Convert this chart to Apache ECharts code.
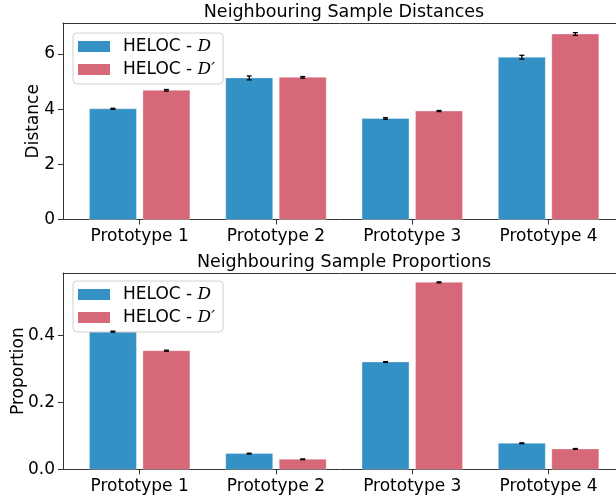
<!DOCTYPE html>
<html><head><meta charset="utf-8">
<script src="https://cdn.jsdelivr.net/npm/echarts@6/dist/echarts.min.js"></script>
<style>html,body{margin:0;padding:0;background:#fff}#c{width:616px;height:497px}</style>
</head><body><div id="c"></div>
<script>
const categories = ['Prototype 1', 'Prototype 2', 'Prototype 3', 'Prototype 4'];
const seriesNames = ['HELOC - D', "HELOC - D'"];
const titles = ['Neighbouring Sample Distances', 'Neighbouring Sample Proportions'];
const yNames = ['Distance', 'Proportion'];
const distD = [4.01, 5.13, 3.66, 5.88];
const distDErr = [0.02, 0.07, 0.03, 0.07];
const distDp = [4.68, 5.15, 3.93, 6.72];
const distDpErr = [0.03, 0.03, 0.02, 0.05];
const propD = [0.412, 0.047, 0.321, 0.078];
const propDErr = [0.0015, 0.0012, 0.0012, 0.0012];
const propDp = [0.355, 0.030, 0.5595, 0.061];
const propDpErr = [0.0015, 0.0012, 0.0015, 0.0012];
const distTicks = [0, 2, 4, 6];
const propTicks = [0, 0.2, 0.4];
const catTicks = [0, 1, 2, 3];

const BLUE = '#3391c5', RED = '#d7687a';
const FONT = 'DejaVu Sans';
const BAR_W = 47, BAR_GAP_PX = 6.5;
const OFF = (BAR_W + BAR_GAP_PX) / 2;
const X_MIN = -0.5625, X_MAX = 3.4947;

const chart = echarts.init(document.getElementById('c'), null, {renderer: 'canvas'});

function xAxis(gi) {
  return {
    type: 'value', gridIndex: gi, min: X_MIN, max: X_MAX,
    axisLine: {show: true, onZero: false, lineStyle: {color: '#333', width: 1}},
    axisTick: {show: true, length: 5, customValues: catTicks, lineStyle: {color: '#333'}},
    axisLabel: {customValues: catTicks, formatter: v => categories[Math.round(v)] || '', fontFamily: FONT, fontSize: 17, color: '#000', margin: 9},
    splitLine: {show: false}
  };
}
function topSpine(gi) {
  return {
    type: 'value', gridIndex: gi, position: 'top', min: X_MIN, max: X_MAX,
    axisLine: {show: true, onZero: false, lineStyle: {color: '#333', width: 1}},
    axisTick: {show: false}, axisLabel: {show: false}, splitLine: {show: false}
  };
}
function yAxis(gi, max, ticks, name, gap, digits) {
  return {
    type: 'value', gridIndex: gi, min: 0, max: max,
    name: name, nameLocation: 'middle', nameGap: gap, nameMoveOverlap: false,
    nameTextStyle: {fontFamily: FONT, fontSize: 17, color: '#000'},
    axisLine: {show: true, onZero: false, lineStyle: {color: '#333', width: 1}},
    axisTick: {show: true, length: 5, customValues: ticks, lineStyle: {color: '#333'}},
    axisLabel: {customValues: ticks, formatter: v => v.toFixed(digits), fontFamily: FONT, fontSize: 17, color: '#000', margin: 8},
    splitLine: {show: false}
  };
}
function barSeries(name, vals, color, side, gi) {
  return {
    type: 'custom', name: name, xAxisIndex: gi, yAxisIndex: gi, silent: true, z: 2,
    itemStyle: {color: color},
    data: vals.map((v, i) => [i, v]),
    encode: {x: 0, y: 1},
    renderItem(params, api) {
      const p0 = api.coord([api.value(0), 0]);
      const p1 = api.coord([api.value(0), api.value(1)]);
      const cx = p0[0] + side * OFF;
      return {type: 'rect',
        shape: {x: cx - BAR_W / 2, y: p1[1], width: BAR_W, height: p0[1] - p1[1]},
        style: {fill: color, stroke: 'rgba(255,255,255,0.3)', lineWidth: 1}};
    }
  };
}
function errSeries(vals, errs, side, gi) {
  return {
    type: 'custom', name: 'err' + gi + side, xAxisIndex: gi, yAxisIndex: gi, silent: true, z: 10,
    data: vals.map((v, i) => [i, v - errs[i], v + errs[i]]),
    encode: {x: 0, y: [1, 2]},
    renderItem(params, api) {
      const lo = api.coord([api.value(0), api.value(1)]);
      const hi = api.coord([api.value(0), api.value(2)]);
      const x = lo[0] + side * OFF;
      const st = {stroke: '#000', lineWidth: 1.3};
      return {type: 'group', children: [
        {type: 'line', shape: {x1: x, y1: lo[1], x2: x, y2: hi[1]}, style: st},
        {type: 'line', shape: {x1: x - 2.5, y1: lo[1], x2: x + 2.5, y2: lo[1]}, style: st},
        {type: 'line', shape: {x1: x - 2.5, y1: hi[1], x2: x + 2.5, y2: hi[1]}, style: st}
      ]};
    }
  };
}
function legend(top) {
  return {
    data: seriesNames, orient: 'vertical', left: 73, top: top,
    itemWidth: 32, itemHeight: 11, itemGap: 6,
    icon: 'rect',
    backgroundColor: 'rgba(255,255,255,0.85)', borderColor: '#d0d0d0', borderWidth: 1, borderRadius: 4,
    padding: [5, 8, 6, 5],
    selectedMode: false,
    textStyle: {fontFamily: FONT, fontSize: 17, color: '#000', lineHeight: 16, padding: [0, 0, 0, 8],
      rich: {m: {fontFamily: 'DejaVu Serif', fontStyle: 'italic', fontSize: 17, color: '#000', lineHeight: 16}}},
    formatter: n => n === seriesNames[0] ? 'HELOC - {m|D}' : 'HELOC - {m|D\u2032}'
  };
}

chart.setOption({
  animation: false,
  backgroundColor: '#fff',
  grid: [
    {left: 63, top: 23, width: 553, height: 196.5, show: false, outerBoundsMode: 'none'},
    {left: 63, top: 273, width: 553, height: 196.3, show: false, outerBoundsMode: 'none'}
  ],
  xAxis: [xAxis(0), xAxis(1), topSpine(0), topSpine(1)],
  yAxis: [yAxis(0, 7.12, distTicks, yNames[0], 21, 0), yAxis(1, 0.5875, propTicks, yNames[1], 36, 1)],
  legend: [legend(33), legend(281)],
  graphic: [
    {type: 'text', x: 344, y: 12, style: {text: titles[0], textAlign: 'center', textVerticalAlign: 'middle', fontFamily: FONT, fontSize: 17.5, fill: '#000'}},
    {type: 'text', x: 344, y: 262, style: {text: titles[1], textAlign: 'center', textVerticalAlign: 'middle', fontFamily: FONT, fontSize: 17.5, fill: '#000'}}
  ],
  series: [
    barSeries(seriesNames[0], distD, BLUE, -1, 0),
    barSeries(seriesNames[1], distDp, RED, 1, 0),
    barSeries(seriesNames[0], propD, BLUE, -1, 1),
    barSeries(seriesNames[1], propDp, RED, 1, 1),
    errSeries(distD, distDErr, -1, 0),
    errSeries(distDp, distDpErr, 1, 0),
    errSeries(propD, propDErr, -1, 1),
    errSeries(propDp, propDpErr, 1, 1)
  ]
});
</script>
</body></html>
